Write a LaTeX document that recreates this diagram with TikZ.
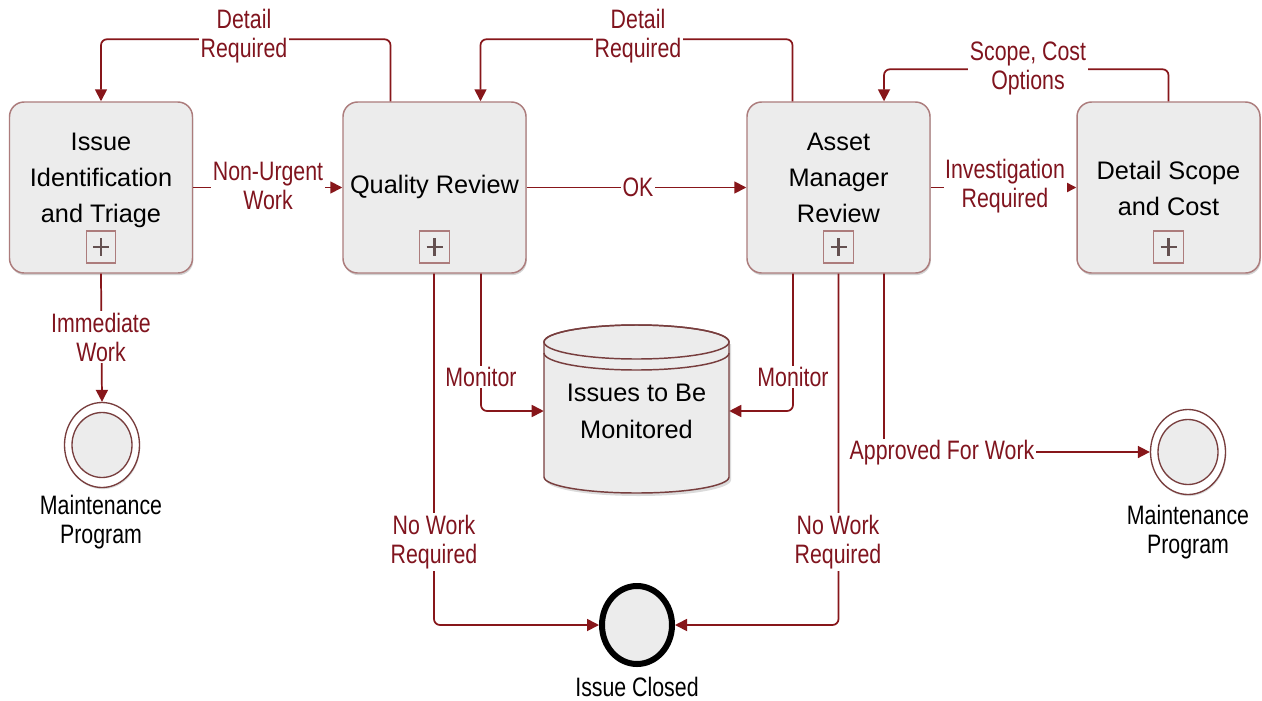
\documentclass[tikz,border=0pt]{standalone}
\usepackage{fontspec}
\setmainfont{Liberation Sans}
\newfontfamily\lblfont{Liberation Sans}[FakeStretch=0.8]
\usetikzlibrary{arrows.meta,calc,shapes.geometric,shadows}

\definecolor{flowred}{RGB}{135,22,26}
\definecolor{lblred}{RGB}{128,20,30}
\definecolor{boxedge}{RGB}{172,124,124}
\definecolor{boxfill}{RGB}{236,236,236}
\definecolor{plusgrey}{RGB}{100,80,80}
\definecolor{ringedge}{RGB}{120,62,62}

\tikzset{
  task/.style={draw=boxedge, line width=1.1pt, fill=boxfill,
    rounded corners=11pt, minimum width=137.25pt, minimum height=128.25pt,
    inner sep=0pt,
    drop shadow={shadow xshift=0.6pt, shadow yshift=-1.6pt, opacity=0.25, fill=black!70}},
  tasktext/.style={font=\fontsize{19}{27}\selectfont, align=center, text=black, inner sep=0pt},
  plusbox/.style={draw=boxedge, line width=0.9pt, fill=boxfill,
    minimum width=22pt, minimum height=24pt, inner sep=0pt},
  flow/.style={draw=flowred, line width=1.3pt, rounded corners=4.5pt,
    -{Triangle[length=9pt,width=9pt]}},
  elabel/.style={font=\lblfont\fontsize{20}{21.75}\selectfont, text=lblred,
    align=center, fill=white, inner sep=1.2pt},
  caption/.style={font=\lblfont\fontsize{20}{21.75}\selectfont, text=black,
    align=center, inner sep=0pt},
  endring/.style={ellipse, draw=ringedge, line width=1pt, fill=white,
    minimum width=56.25pt, minimum height=63.75pt, inner sep=0pt,
    drop shadow={shadow xshift=0.5pt, shadow yshift=-1.2pt, opacity=0.2, fill=black!70}},
  endstop/.style={ellipse, draw=black, line width=4.5pt, fill=boxfill,
    minimum width=52.5pt, minimum height=58.5pt, inner sep=0pt},
  store/.style={draw=none, minimum width=138.75pt, minimum height=126pt,
    inner sep=0pt, align=center, font=\fontsize{19}{27.75}\selectfont}
}

\newcommand{\plusmark}[2]{%
  \node[plusbox] (#1) at #2 {};
  \draw[plusgrey, line width=2.2pt] ($(#1.center)+(-8,0)$) -- ($(#1.center)+(8,0)$);
  \draw[plusgrey, line width=2.2pt] ($(#1.center)+(0,-9)$) -- ($(#1.center)+(0,9)$);
}

\begin{document}
\begin{tikzpicture}[x=0.75pt, y=-0.75pt]
  \useasboundingbox[fill=white] (0,0) rectangle (1262,700);

  % sub-process boxes
  \node[task] (iit) at (101,187.5) {};
  \node[task] (qr)  at (434.5,187.5) {};
  \node[task] (amr) at (838.5,187.5) {};
  \node[task] (dsc) at (1168.5,187.5) {};

  \node[tasktext] (iitt) at (101,180) {Issue\\Identification\\and Triage};
  \node[tasktext] (qrt)  at (434.5,187) {Quality Review};
  \node[tasktext] (amrt) at (838.5,178) {Asset\\Manager\\Review};
  \node[tasktext] (dsct) at (1168.5,188) {Detail Scope\\and Cost};

  \plusmark{p1}{(101,247)}
  \plusmark{p2}{(434.5,247)}
  \plusmark{p3}{(838.5,247)}
  \plusmark{p4}{(1168.5,247)}

  % data store
  \fill[black!70, opacity=0.2] (546,344) -- (546,480)
     arc[start angle=180, end angle=0, x radius=92.5, y radius=16] -- (731,344) -- cycle;
  \filldraw[draw=ringedge, line width=1.1pt, fill=boxfill]
     (544,342) -- (544,477)
     arc[start angle=180, end angle=0, x radius=92.5, y radius=16]
     -- (729,342)
     arc[start angle=0, end angle=-180, x radius=92.5, y radius=17] -- cycle;
  \draw[ringedge, line width=1.1pt] (636.5,342) ellipse [x radius=92.5, y radius=17];
  \draw[ringedge, line width=1.1pt] (544,353)
     arc[start angle=180, end angle=0, x radius=92.5, y radius=17];
  \node[store] (mon) at (636.5,411) {Issues to Be\\Monitored};

  % end events
  \node[endring] (mp1) at (102,445) {};
  \draw[ringedge, line width=1pt, fill=boxfill] (mp1.center) ellipse [x radius=30, y radius=32.5];
  \node[caption] (mp1t) at (101,522) {Maintenance\\Program};

  \node[endring] (mp2) at (1188,452) {};
  \draw[ringedge, line width=1pt, fill=boxfill] (mp2.center) ellipse [x radius=30, y radius=32.5];
  \node[caption] (mp2t) at (1188,532) {Maintenance\\Program};

  \node[endstop] (ic) at (637,625) {};
  \node[caption] (ict) at (637,687) {Issue Closed};

  % sequence flows
  \draw[flow] ($(qr.north)+(-44,0)$) -- ++(0,-62) -| (iit.north);
  \draw[flow] ($(amr.north)+(-46,0)$) -- ++(0,-62) -| ($(qr.north)+(46,0)$);
  \draw[flow] (dsc.north) -- ++(0,-32) -| ($(amr.north)+(45.5,0)$);
  \draw[flow] (iit.east) -- (qr.west);
  \draw[flow] (qr.east) -- (amr.west);
  \draw[flow] (amr.east) -- (dsc.west);
  \draw[flow] (iit.south) -- (mp1.north);
  \draw[flow] ($(qr.south)+(46.5,0)$) |- (mon.west);
  \draw[flow] ($(amr.south)+(-45.5,0)$) |- (mon.east);
  \draw[flow] ($(qr.south)+(-0.5,0)$) |- (ic.west);
  \draw[flow] (amr.south) |- (ic.east);
  \draw[flow] ($(amr.south)+(45.5,0)$) |- (mp2.west);

  % flow labels
  \node[elabel] (l1)  at (244,36)  {Detail\\Required};
  \node[elabel] (l2)  at (638,36)  {Detail\\Required};
  \node[elabel] (l3)  at (1028,68) {Scope, Cost\\Options};
  \node[elabel] (l4)  at (268,186) {Non-Urgent\\Work};
  \node[elabel] (l5)  at (638,187) {OK};
  \node[elabel] (l6)  at (1005,186) {Investigation\\Required};
  \node[elabel] (l7)  at (101,337) {Immediate\\Work};
  \node[elabel] (l8)  at (481,377) {Monitor};
  \node[elabel] (l9)  at (793,377) {Monitor};
  \node[elabel] (l10) at (434,542) {No Work\\Required};
  \node[elabel] (l11) at (838,542) {No Work\\Required};
  \node[elabel] (l12) at (942,453) {Approved For Work};
\end{tikzpicture}
\end{document}
